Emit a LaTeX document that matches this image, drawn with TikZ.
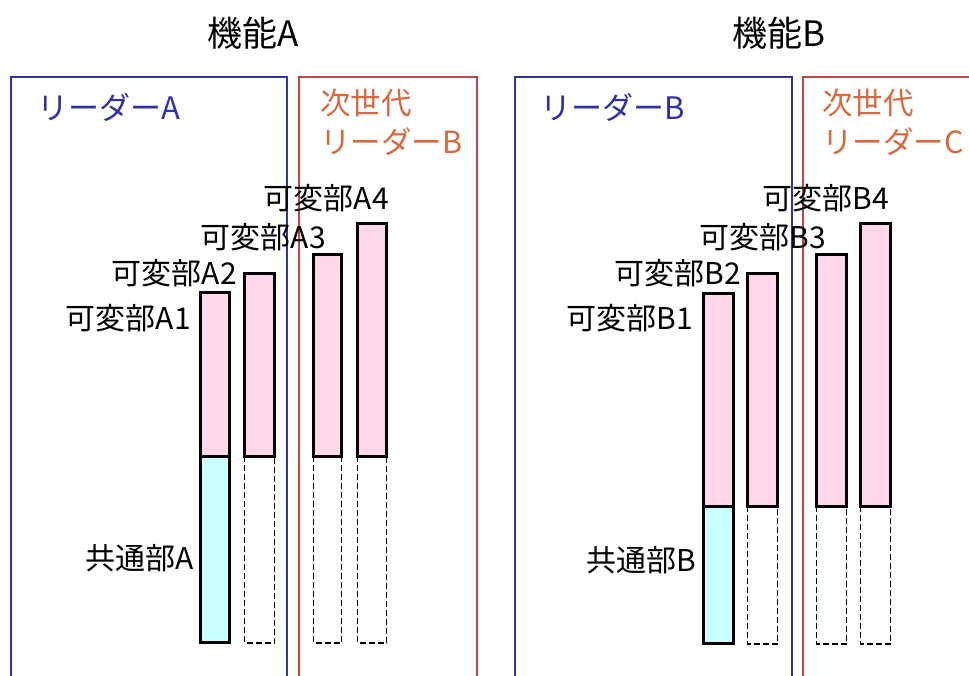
\documentclass[tikz,border=0pt]{standalone}
\usepackage{fontspec}
\setmainfont{Noto Sans CJK JP}
\definecolor{pinkc}{HTML}{FFD6EA}
\definecolor{cyanc}{HTML}{CCFFFF}
\definecolor{blueline}{HTML}{3434A0}
\definecolor{redline}{HTML}{C04848}
\definecolor{bluetext}{HTML}{3030A8}
\definecolor{orangetext}{HTML}{D8683E}
\tikzset{
  lbl/.style={font=\fontsize{30}{35}\selectfont, inner sep=0pt, anchor=east, text=black},
  ttl/.style={font=\fontsize{35}{40}\selectfont, inner sep=0pt, text=black},
  ldrA/.style={font=\fontsize{31}{36}\selectfont, inner sep=0pt, anchor=west, text=bluetext},
  ldrB/.style={font=\fontsize{30.5}{36}\selectfont, inner sep=0pt, anchor=west, text=orangetext},
  bluebox/.style={draw=blueline, line width=1.5pt},
  redbox/.style={draw=redline, line width=1.5pt},
  pinkbar/.style={draw=black, line width=3pt, fill=pinkc},
  cyanbar/.style={draw=black, line width=3pt, fill=cyanc},
  ghostbar/.style={draw=black, line width=1.2pt, dash pattern=on 6pt off 3pt},
}
\begin{document}
\begin{tikzpicture}[x=1pt,y=-1pt]
\useasboundingbox (0,0) rectangle (969,676);
\clip (0,0) rectangle (969,676);
\fill[white] (0,0) rectangle (969,676);
% leader boxes
\draw[bluebox] (11,77) rectangle (287,700);
\draw[redbox] (299,77) rectangle (477,700);
\draw[bluebox] (515,77) rectangle (792,700);
\draw[redbox] (803,77) rectangle (1000,700);
% titles
\node[ttl] (tA) at (253,33) {機能A};
\node[ttl] (tB) at (779,33) {機能B};
% leader labels
\node[ldrA] (lA) at (37,107) {リーダーA};
\node[ldrB] (nA1) at (320,103) {次世代};
\node[ldrB] (nA2) at (320,142) {リーダーB};
\node[ldrA] (lB) at (540,107) {リーダーB};
\node[ldrB] (nB1) at (822,103) {次世代};
\node[ldrB] (nB2) at (822,142) {リーダーC};
% group A bars
\draw[cyanbar] (200.5,456) rectangle (229.5,642.5);
\draw[pinkbar] (200.5,292.5) rectangle (229.5,456);
\draw[ghostbar] (244.5,456) rectangle (274.5,643);
\draw[pinkbar] (244.5,273.5) rectangle (274.5,456);
\draw[ghostbar] (313.5,456) rectangle (341.5,643);
\draw[pinkbar] (313.5,254.5) rectangle (341.5,456);
\draw[ghostbar] (357.5,456) rectangle (386.5,643);
\draw[pinkbar] (357.5,223.5) rectangle (386.5,456);
% group B bars
\draw[cyanbar] (703.5,506) rectangle (733.5,643.5);
\draw[pinkbar] (703.5,293.5) rectangle (733.5,506);
\draw[ghostbar] (747.5,506) rectangle (777.5,644);
\draw[pinkbar] (747.5,273.5) rectangle (777.5,506);
\draw[ghostbar] (816.5,506) rectangle (846.5,644);
\draw[pinkbar] (816.5,254.5) rectangle (846.5,506);
\draw[ghostbar] (860.5,506) rectangle (890.5,644);
\draw[pinkbar] (860.5,223.5) rectangle (890.5,506);
% labels A
\node[lbl] (vA1) at (191,318) {可変部A1};
\node[lbl] (vA2) at (237,273) {可変部A2};
\node[lbl] (vA3) at (326,237) {可変部A3};
\node[lbl] (vA4) at (389,198) {可変部A4};
\node[lbl] (cA) at (194,558) {共通部A};
% labels B
\node[lbl] (vB1) at (693,318) {可変部B1};
\node[lbl] (vB2) at (741,273) {可変部B2};
\node[lbl] (vB3) at (826,237) {可変部B3};
\node[lbl] (vB4) at (889,198) {可変部B4};
\node[lbl] (cB) at (696,560) {共通部B};
\end{tikzpicture}
\end{document}
